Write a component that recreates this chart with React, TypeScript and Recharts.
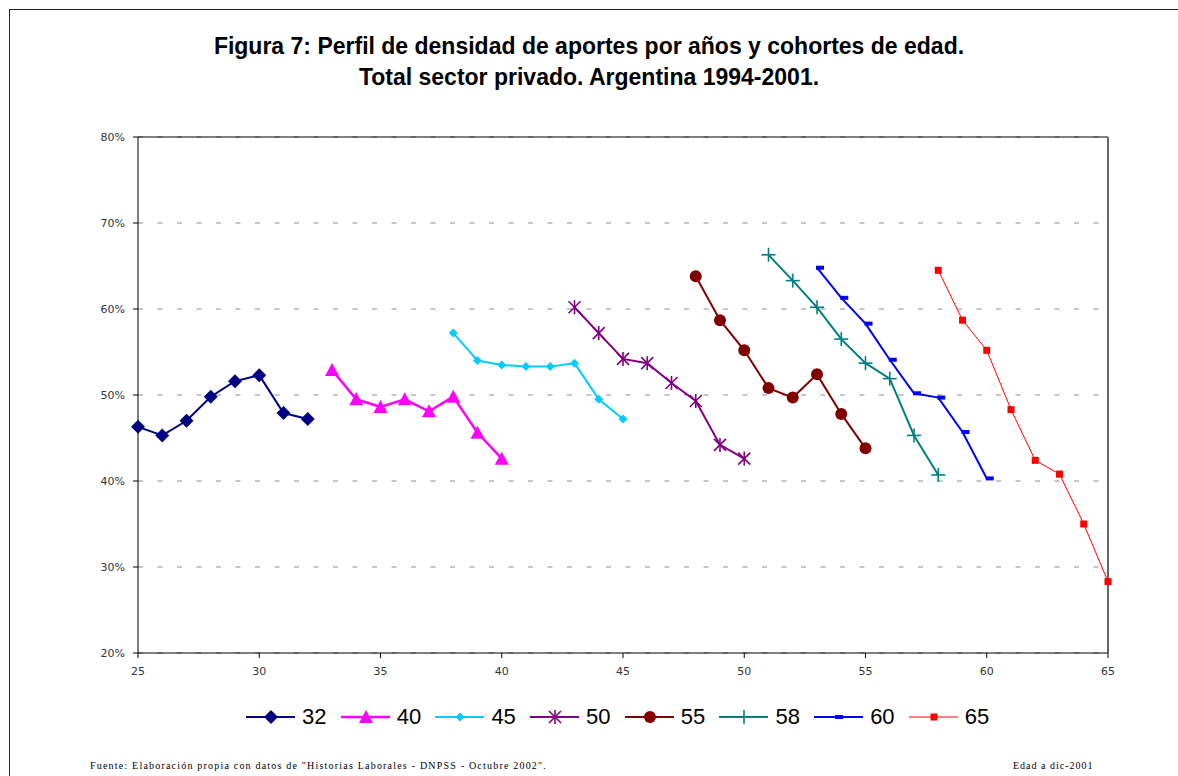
import React from 'react'
import { LineChart, Line, XAxis, YAxis, CartesianGrid, ReferenceLine } from 'recharts'

// edades por cohorte (1994-2001) y densidad de aportes en %
const age32 = [25, 26, 27, 28, 29, 30, 31, 32]
const val32 = [46.3, 45.3, 47.0, 49.8, 51.6, 52.3, 47.9, 47.2]
const age40 = [33, 34, 35, 36, 37, 38, 39, 40]
const val40 = [52.9, 49.5, 48.6, 49.5, 48.1, 49.8, 45.6, 42.6]
const age45 = [38, 39, 40, 41, 42, 43, 44, 45]
const val45 = [57.2, 54.0, 53.5, 53.3, 53.3, 53.7, 49.5, 47.2]
const age50 = [43, 44, 45, 46, 47, 48, 49, 50]
const val50 = [60.2, 57.2, 54.2, 53.7, 51.4, 49.3, 44.2, 42.6]
const age55 = [48, 49, 50, 51, 52, 53, 54, 55]
const val55 = [63.8, 58.7, 55.2, 50.8, 49.7, 52.4, 47.8, 43.8]
const age58 = [51, 52, 53, 54, 55, 56, 57, 58]
const val58 = [66.3, 63.3, 60.2, 56.5, 53.7, 51.9, 45.3, 40.7]
const age60 = [53, 54, 55, 56, 57, 58, 59, 60]
const val60 = [64.8, 61.3, 58.3, 54.1, 50.2, 49.7, 45.7, 40.3]
const age65 = [58, 59, 60, 61, 62, 63, 64, 65]
const val65 = [64.5, 58.7, 55.2, 48.3, 42.4, 40.8, 35.0, 28.3]

const xTicks = [25, 30, 35, 40, 45, 50, 55, 60, 65]
const yTicks = [20, 30, 40, 50, 60, 70, 80]

const toRows = (ages: number[], vals: number[]) => ages.map((age, i) => ({ age, v: vals[i] }))

type Shape = 'diamond' | 'triangle' | 'small' | 'star' | 'circle' | 'plus' | 'dash' | 'square'

const series: { name: string; shape: Shape; color: string; width: number; rows: { age: number; v: number }[] }[] = [
  { name: '32', shape: 'diamond', color: '#000080', width: 2, rows: toRows(age32, val32) },
  { name: '40', shape: 'triangle', color: '#FF00FF', width: 2.5, rows: toRows(age40, val40) },
  { name: '45', shape: 'small', color: '#00CCFF', width: 2, rows: toRows(age45, val45) },
  { name: '50', shape: 'star', color: '#800080', width: 2, rows: toRows(age50, val50) },
  { name: '55', shape: 'circle', color: '#800000', width: 2, rows: toRows(age55, val55) },
  { name: '58', shape: 'plus', color: '#008080', width: 2, rows: toRows(age58, val58) },
  { name: '60', shape: 'dash', color: '#0000FF', width: 2, rows: toRows(age60, val60) },
  { name: '65', shape: 'square', color: '#FF0000', width: 1, rows: toRows(age65, val65) },
]

function Marker({ shape, cx, cy, color }: { shape: Shape; cx: number; cy: number; color: string }) {
  switch (shape) {
    case 'diamond':
      return <polygon points={`${cx},${cy - 7} ${cx + 7},${cy} ${cx},${cy + 7} ${cx - 7},${cy}`} fill={color} />
    case 'triangle':
      return <polygon points={`${cx},${cy - 7} ${cx + 7},${cy + 6} ${cx - 7},${cy + 6}`} fill={color} />
    case 'small':
      return <polygon points={`${cx},${cy - 4.5} ${cx + 4.5},${cy} ${cx},${cy + 4.5} ${cx - 4.5},${cy}`} fill={color} />
    case 'star':
      return (
        <g stroke={color} strokeWidth={1.6}>
          <line x1={cx} y1={cy - 7} x2={cx} y2={cy + 7} />
          <line x1={cx - 6} y1={cy - 6} x2={cx + 6} y2={cy + 6} />
          <line x1={cx - 6} y1={cy + 6} x2={cx + 6} y2={cy - 6} />
        </g>
      )
    case 'circle':
      return <circle cx={cx} cy={cy} r={6} fill={color} />
    case 'plus':
      return (
        <g stroke={color} strokeWidth={1.6}>
          <line x1={cx} y1={cy - 7} x2={cx} y2={cy + 7} />
          <line x1={cx - 7} y1={cy} x2={cx + 7} y2={cy} />
        </g>
      )
    case 'dash':
      return <rect x={cx - 1} y={cy - 2} width={8} height={4} fill={color} />
    case 'square':
      return <rect x={cx - 3.5} y={cy - 3.5} width={7} height={7} fill={color} />
  }
}

const tickStyle = { fontSize: 11, fill: '#333', fontFamily: 'DejaVu Sans' }

export default function App() {
  return (
    <div style={{ position: 'relative', width: 1178, height: 776, background: '#fff', overflow: 'hidden' }}>
      <style>{`body { margin: 0; }`}</style>
      <div style={{ position: 'absolute', left: 9, top: 9, width: 1200, height: 800, borderLeft: '1.5px solid #222', borderTop: '1.5px solid #222' }} />
      <div style={{ position: 'absolute', top: 31, left: 0, width: 1178, textAlign: 'center', fontFamily: 'Liberation Sans, Arial', fontWeight: 'bold', fontSize: 23, lineHeight: '31px', color: '#000' }}>
        Figura 7: Perfil de densidad de aportes por años y cohortes de edad.<br />
        Total sector privado. Argentina 1994-2001.
      </div>
      <div style={{ position: 'absolute', top: 0, left: 0 }}>
        <LineChart width={1178} height={776} margin={{ top: 137, right: 70, bottom: 0, left: 0 }}>
          <CartesianGrid vertical={false} stroke="#8c8c8c" strokeDasharray="5 14.5" />
          <XAxis
            type="number" dataKey="age" domain={[25, 65]} ticks={xTicks} allowDuplicatedCategory={false}
            tick={tickStyle} tickSize={5} tickMargin={9} stroke="#000" height={123}
          />
          <YAxis
            type="number" domain={[20, 80]} ticks={yTicks} width={138}
            tick={tickStyle} tickSize={5} tickMargin={8} stroke="#000" tickFormatter={(v) => `${v}%`}
          />
          <ReferenceLine y={80} stroke="#000" strokeWidth={1} />
          <ReferenceLine x={65} stroke="#666" strokeWidth={2} />
          {series.map((s) => (
            <Line
              key={s.name} data={s.rows} dataKey="v" name={s.name} type="linear"
              stroke={s.color} strokeWidth={s.width} isAnimationActive={false}
              dot={(p: any) => <Marker key={`${s.name}-${p.index}`} shape={s.shape} cx={p.cx} cy={p.cy} color={s.color} />}
              activeDot={false}
            />
          ))}
        </LineChart>
      </div>
      <div style={{ position: 'absolute', top: 704, left: 246, display: 'flex', alignItems: 'center', fontFamily: 'Liberation Sans, Arial', fontSize: 22, color: '#000' }}>
        {series.map((s) => (
          <div key={s.name} style={{ display: 'flex', alignItems: 'center', width: 94.7 }}>
            <svg width={50} height={26}>
              <line x1={0} y1={13} x2={49} y2={13} stroke={s.color} strokeWidth={s.width} />
              <Marker shape={s.shape} cx={s.shape === 'dash' ? 22 : 25} cy={13} color={s.color} />
            </svg>
            <span style={{ marginLeft: 6 }}>{s.name}</span>
          </div>
        ))}
      </div>
      <div style={{ position: 'absolute', top: 760, left: 90, fontFamily: 'Liberation Serif', fontSize: 10, letterSpacing: 1.2, color: '#000', whiteSpace: 'nowrap' }}>
        Fuente: Elaboración propia con datos de "Historias Laborales - DNPSS - Octubre 2002".
      </div>
      <div style={{ position: 'absolute', top: 760, left: 1013, fontFamily: 'Liberation Serif', fontSize: 10, letterSpacing: 1.0, color: '#000', whiteSpace: 'nowrap' }}>
        Edad a dic-2001
      </div>
    </div>
  )
}
